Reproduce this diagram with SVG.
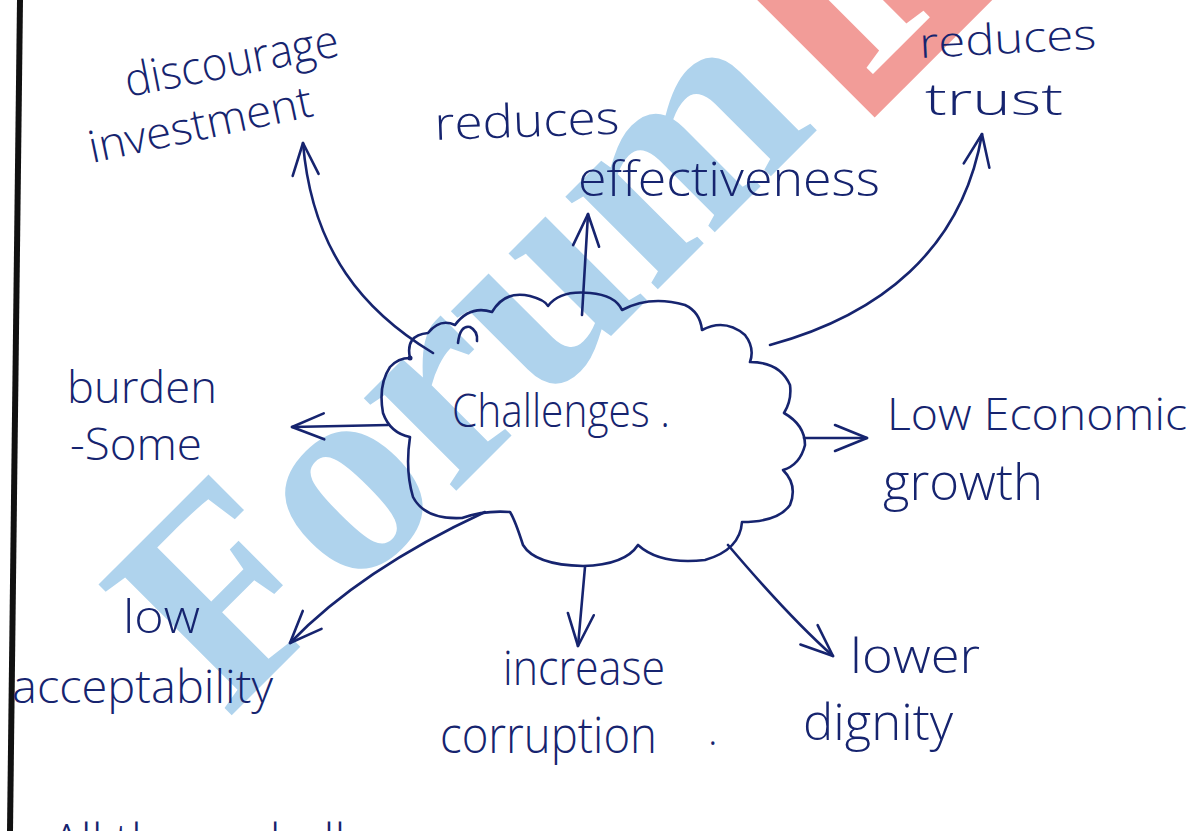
<svg xmlns="http://www.w3.org/2000/svg" width="1204" height="831" viewBox="0 0 1204 831">
  <style>
    .ink { fill: #16246f; font-family: "Open Sans", "Liberation Sans", sans-serif; font-weight: 300; }
    .line { fill: none; stroke: #16246f; stroke-width: 2.6; stroke-linecap: round; stroke-linejoin: round; }
    .wm { font-family: "Liberation Serif", serif; font-weight: bold; }
  </style>
  <defs>
    <marker id="arrow" viewBox="0 0 40 40" refX="38" refY="20" markerWidth="40" markerHeight="40" markerUnits="userSpaceOnUse" orient="auto">
      <path d="M6,7 L38,20 L6,33" fill="none" stroke="#16246f" stroke-width="2.6" stroke-linecap="round" stroke-linejoin="round"/>
    </marker>
  </defs>
  <rect width="1204" height="831" fill="#ffffff"/>

  <!-- watermark -->
  <g id="watermark">
    <text class="wm" transform="translate(227,720) rotate(-45)" font-size="285" fill="#afd3ed">Forum</text>
    <g transform="translate(227,720) rotate(-45)">
      <rect x="884" y="-300" width="420" height="332" fill="#f29c98"/>
      <text class="wm" x="905" y="0" font-size="250" fill="#ffffff">I</text>
    </g>
  </g>

  <!-- page border -->
  <line x1="20" y1="0" x2="10" y2="831" stroke="#111111" stroke-width="6"/>

  <!-- connectors -->
  <g id="connectors">
    <path class="line" d="M433,353 C365,312 312,252 303,143" marker-end="url(#arrow)"/>
    <path class="line" d="M582,315 L588,214" marker-end="url(#arrow)"/>
    <path class="line" d="M770,345 C880,315 962,250 982,134" marker-end="url(#arrow)"/>
    <path class="line" d="M388,425 L292,427" marker-end="url(#arrow)"/>
    <path class="line" d="M804,438 L867,438" marker-end="url(#arrow)"/>
    <path class="line" d="M485,512 Q360,570 290,643" marker-end="url(#arrow)"/>
    <path class="line" d="M585,567 L578,646" marker-end="url(#arrow)"/>
    <path class="line" d="M728,545 Q790,618 833,656" marker-end="url(#arrow)"/>
  </g>

  <!-- central cloud -->
  <g id="challenges">
    <path class="line" d="M410,358 Q405,335 428,333 Q440,318 455,325 Q470,305 492,312 Q505,290 530,296 Q545,300 548,306 Q560,290 590,293 Q615,295 622,310 Q650,295 685,305 Q700,312 702,330 Q725,318 745,335 Q755,348 750,362 Q780,362 790,385 Q792,400 784,413 Q805,425 805,445 Q800,465 783,470 Q798,485 790,505 Q778,522 742,522 Q740,550 705,560 Q660,565 638,545 Q625,565 583,566 Q535,565 523,545 Q515,520 510,512 Q485,510 462,518 Q425,520 413,497 Q405,470 410,437 Q390,433 383,413 Q378,385 390,367 Q398,358 410,358 Z"/>
    <path class="line" d="M458,343 Q460,325 470,327 Q478,331 477,341"/>
    <circle cx="410" cy="358" r="2.5" fill="#16246f"/>
    <text class="ink" x="452" y="427" font-size="46" textLength="218" lengthAdjust="spacingAndGlyphs">Challenges .</text>
  </g>

  <g id="discourage-investment">
    <text class="ink" x="128" y="97" font-size="46" textLength="217" lengthAdjust="spacingAndGlyphs" transform="rotate(-11 128 97)">discourage</text>
    <text class="ink" x="92" y="163" font-size="44" textLength="228" lengthAdjust="spacingAndGlyphs" transform="rotate(-12 92 163)">investment</text>
  </g>

  <g id="reduces-effectiveness">
    <text class="ink" x="435" y="140" font-size="46" textLength="185" lengthAdjust="spacingAndGlyphs" transform="rotate(-2 435 140)">reduces</text>
    <text class="ink" x="578" y="196" font-size="48" textLength="302" lengthAdjust="spacingAndGlyphs">effectiveness</text>
  </g>

  <g id="reduces-trust">
    <text class="ink" x="920" y="58" font-size="42" textLength="177" lengthAdjust="spacingAndGlyphs" transform="rotate(-3 920 58)">reduces</text>
    <text class="ink" x="925" y="115" font-size="44" textLength="138" lengthAdjust="spacingAndGlyphs">trust</text>
  </g>

  <g id="burdensome">
    <text class="ink" x="67" y="403" font-size="44" textLength="150" lengthAdjust="spacingAndGlyphs">burden</text>
    <text class="ink" x="70" y="460" font-size="44" textLength="132" lengthAdjust="spacingAndGlyphs">-Some</text>
  </g>

  <g id="low-economic-growth">
    <text class="ink" x="887" y="430" font-size="44" textLength="300" lengthAdjust="spacingAndGlyphs">Low Economic</text>
    <text class="ink" x="883" y="500" font-size="50" textLength="160" lengthAdjust="spacingAndGlyphs">growth</text>
  </g>

  <g id="low-acceptability">
    <text class="ink" x="123" y="633" font-size="46" textLength="77" lengthAdjust="spacingAndGlyphs">low</text>
    <text class="ink" x="12" y="703" font-size="46" textLength="261" lengthAdjust="spacingAndGlyphs">acceptability</text>
  </g>

  <g id="increase-corruption">
    <text class="ink" x="503" y="685" font-size="48" textLength="162" lengthAdjust="spacingAndGlyphs">increase</text>
    <text class="ink" x="440" y="753" font-size="50" textLength="217" lengthAdjust="spacingAndGlyphs">corruption</text>
    <text class="ink" x="708" y="745" font-size="40">.</text>
  </g>

  <g id="lower-dignity">
    <text class="ink" x="850" y="673" font-size="48" textLength="130" lengthAdjust="spacingAndGlyphs">lower</text>
    <text class="ink" x="803" y="740" font-size="50" textLength="150" lengthAdjust="spacingAndGlyphs">dignity</text>
  </g>

  <g id="footer">
    <text class="ink" x="52" y="858" font-size="48">All these challenges</text>
  </g>
</svg>
